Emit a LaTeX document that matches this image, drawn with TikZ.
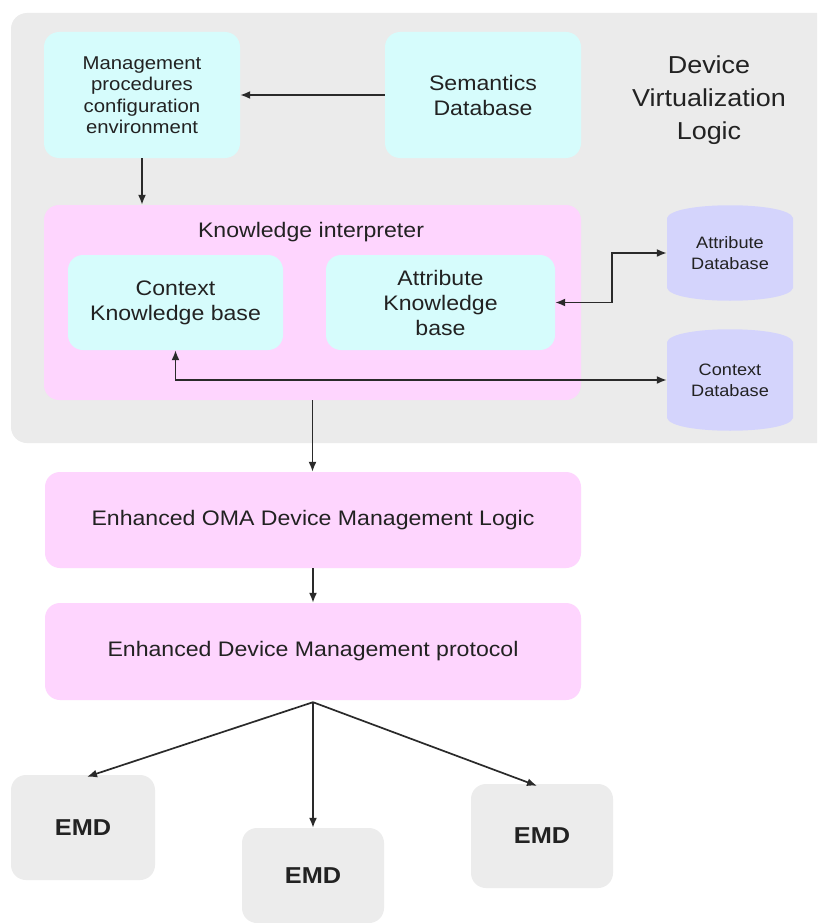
\documentclass[tikz,border=0pt]{standalone}
\usepackage{fontspec}
\setmainfont{Liberation Sans}[FakeStretch=1.1]
\usetikzlibrary{arrows.meta,calc}

\definecolor{panelgray}{HTML}{EBEBEB}
\definecolor{boxcyan}{HTML}{D6FCFC}
\definecolor{boxpink}{HTML}{FED5FE}
\definecolor{dblav}{HTML}{D4D4FC}
\definecolor{emdgray}{HTML}{ECECEC}
\definecolor{ink}{HTML}{222222}
\definecolor{wire}{HTML}{2A2A2A}

\tikzset{
  box/.style={rectangle, rounded corners=15pt, inner sep=0pt, align=center,
    text=ink, font=\fontsize{21}{25}\selectfont},
  cyanbox/.style={box, fill=boxcyan},
  pinkbox/.style={box, fill=boxpink},
  emdbox/.style={box, fill=emdgray, font=\fontsize{23}{27}\bfseries\selectfont},
  dbnode/.style={rectangle, inner sep=0pt, align=center, text=ink,
    font=\fontsize{16.5}{21}\selectfont,
    path picture={
      \fill[dblav]
        ($(path picture bounding box.north west)+(0pt,-14pt)$)
          .. controls ($(path picture bounding box.north west)+(4pt,3pt)$)
             and ($(path picture bounding box.north east)+(-4pt,3pt)$)
          .. ($(path picture bounding box.north east)+(0pt,-14pt)$)
        -- ($(path picture bounding box.south east)+(0pt,14pt)$)
          .. controls ($(path picture bounding box.south east)+(-4pt,-3pt)$)
             and ($(path picture bounding box.south west)+(4pt,-3pt)$)
          .. ($(path picture bounding box.south west)+(0pt,14pt)$)
        -- cycle;
    }},
  tip/.style={Latex[length=10pt,width=8pt]},
  arr/.style={draw=wire, line width=1.7pt, -{Latex[length=10pt,width=8pt]}},
  biarr/.style={arr, {Latex[length=10pt,width=8pt]}-{Latex[length=10pt,width=8pt]}},
}

\begin{document}
\begin{tikzpicture}[x=1pt,y=-1pt]
  \useasboundingbox (0,0) rectangle (817,923);
  \clip (0,0) rectangle (817,923);
  \fill[white] (0,0) rectangle (817,923);

  % virtualization panel (runs off the right edge)
  \fill[panelgray, rounded corners=16pt] (11,13) rectangle (840,443);
  \node[text=ink, align=center, font=\fontsize{24.5}{33}\selectfont]
    (dvl) at (709,100) {Device\\Virtualization\\Logic};

  % upper configuration boxes
  \node[cyanbox, minimum width=196pt, minimum height=126pt,
        font=\fontsize{18.5}{21.5}\selectfont]
    (mgmt) at (142,95) {Management\\procedures\\configuration\\environment};
  \node[cyanbox, minimum width=196pt, minimum height=126pt]
    (sem) at (483,95) {Semantics\\Database};

  % knowledge interpreter with its two knowledge bases
  \node[pinkbox, minimum width=537pt, minimum height=195pt]
    (ki) at (312.5,302.5) {};
  \node[text=ink, font=\fontsize{21}{25}\selectfont]
    (kititle) at (311,232) {Knowledge interpreter};
  \node[cyanbox, minimum width=215pt, minimum height=95pt]
    (ckb) at (175.5,302.5) {Context\\Knowledge base};
  \node[cyanbox, minimum width=229pt, minimum height=95pt]
    (akb) at (440.5,302.5) {Attribute\\Knowledge\\base};

  % databases
  \node[dbnode, minimum width=126pt, minimum height=98pt]
    (adb) at (730,253) {Attribute\\Database};
  \node[dbnode, minimum width=126pt, minimum height=104pt]
    (cdb) at (730,380) {Context\\Database};

  % device management stack
  \node[pinkbox, minimum width=536pt, minimum height=96pt]
    (oma) at (313,520) {Enhanced OMA Device Management Logic};
  \node[pinkbox, minimum width=536pt, minimum height=97pt]
    (dmp) at (313,651.5) {Enhanced Device Management protocol};

  % managed devices
  \node[emdbox, minimum width=144pt, minimum height=105pt]
    (emda) at (83,827.5) {EMD};
  \node[emdbox, minimum width=142pt, minimum height=95pt]
    (emdb) at (313,875.5) {EMD};
  \node[emdbox, minimum width=142pt, minimum height=104pt]
    (emdc) at (542,836) {EMD};

  % connectors
  \draw[arr] (sem.west) -- (mgmt.east);
  \draw[arr] (mgmt.south) -- (mgmt.south |- ki.north);
  \draw[biarr] (akb.east) -- ++(57,0) |- (adb.west);
  \draw[biarr] (ckb.south) |- (cdb.west);
  \draw[arr] (ki.south) -- (ki.south |- oma.north);
  \draw[arr] (oma.south) -- (dmp.north);
  \coordinate (fan) at ($(dmp.south)+(0pt,-2pt)$);
  \draw[arr] (fan) -- ($(emda.north)+(4pt,-2pt)$);
  \draw[arr] (fan) -- (emdb.north);
  \draw[arr] (fan) -- ($(emdc.north)+(-5pt,-2pt)$);
\end{tikzpicture}
\end{document}
